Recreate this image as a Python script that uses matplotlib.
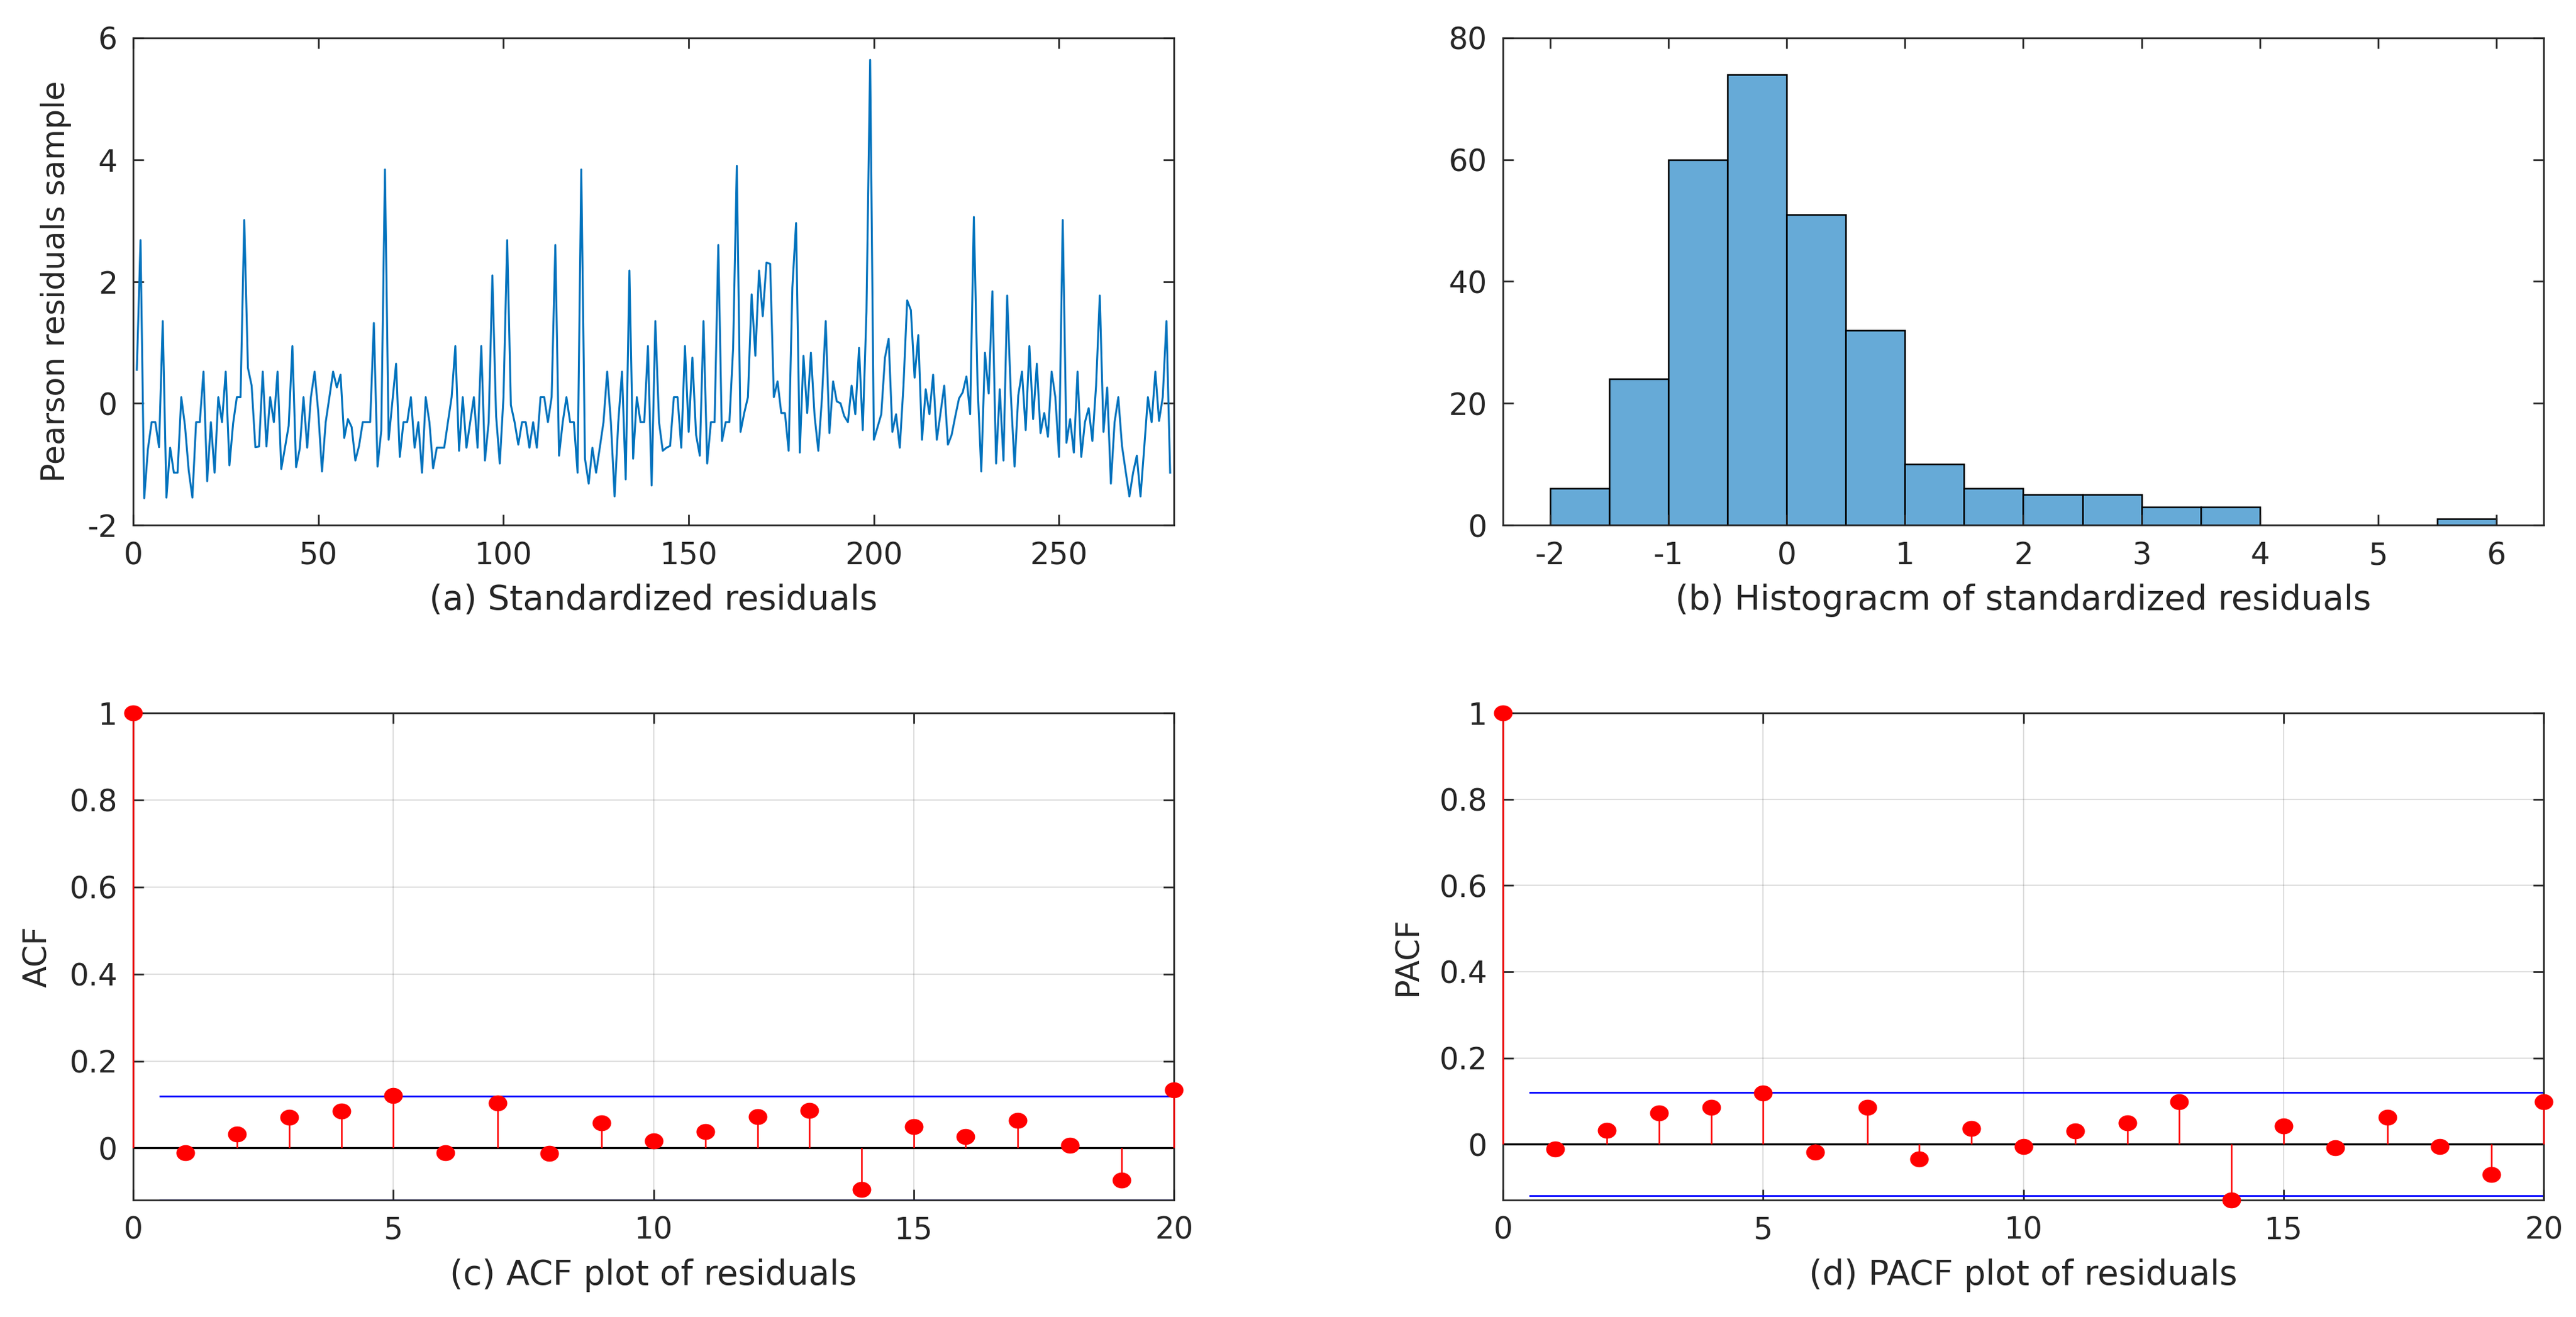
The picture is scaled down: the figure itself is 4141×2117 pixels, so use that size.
"""
Residual diagnostics figure: series, histogram, ACF and PACF of the
standardized (Pearson) residuals.
"""

import numpy as np
import matplotlib
matplotlib.use('Agg')
import matplotlib.pyplot as plt
from matplotlib.path import Path

# ---- data ----
residuals = [
    0.55, 2.68, -1.56, -0.75, -0.31, -0.31, -0.72, 1.35, -1.55, -0.73,
    -1.14, -1.14, 0.10, -0.37, -1.10, -1.55, -0.31, -0.31, 0.52, -1.28,
    -0.31, -1.14, 0.10, -0.31, 0.52, -1.02, -0.33, 0.10, 0.10, 3.01,
    0.58, 0.29, -0.72, -0.71, 0.52, -0.71, 0.10, -0.31, 0.52, -1.08,
    -0.73, -0.37, 0.94, -1.05, -0.74, 0.10, -0.73, 0.10, 0.52, -0.15,
    -1.12, -0.31, 0.10, 0.52, 0.26, 0.47, -0.57, -0.26, -0.39, -0.94,
    -0.70, -0.31, -0.31, -0.31, 1.32, -1.04, -0.45, 3.84, -0.60, 0.03,
    0.65, -0.88, -0.31, -0.31, 0.10, -0.73, -0.31, -1.14, 0.10, -0.31,
    -1.07, -0.73, -0.73, -0.73, -0.31, 0.10, 0.94, -0.78, 0.10, -0.73,
    -0.31, 0.10, -0.73, 0.94, -0.94, -0.31, 2.10, -0.20, -0.99, 0.10,
    2.68, -0.03, -0.31, -0.68, -0.31, -0.31, -0.73, -0.31, -0.73, 0.10,
    0.10, -0.31, 0.10, 2.60, -0.86, -0.31, 0.10, -0.31, -0.31, -1.14,
    3.84, -0.91, -1.32, -0.73, -1.14, -0.73, -0.31, 0.52, -0.31, -1.53,
    -0.31, 0.52, -1.25, 2.18, -0.91, 0.10, -0.31, -0.31, 0.94, -1.35,
    1.35, -0.31, -0.78, -0.73, -0.70, 0.10, 0.10, -0.73, 0.94, -0.47,
    0.75, -0.52, -0.86, 1.35, -0.99, -0.31, -0.31, 2.60, -0.62, -0.31,
    -0.31, 0.90, 3.90, -0.47, -0.16, 0.10, 1.79, 0.78, 2.18, 1.43,
    2.31, 2.29, 0.10, 0.36, -0.16, -0.16, -0.78, 1.90, 2.96, -0.81,
    0.78, -0.16, 0.83, -0.21, -0.78, 0.10, 1.35, -0.49, 0.36, 0.03,
    0.00, -0.21, -0.31, 0.29, -0.18, 0.91, -0.44, 1.50, 5.64, -0.60,
    -0.39, -0.18, 0.75, 1.06, -0.47, -0.18, -0.73, 0.29, 1.69, 1.53,
    0.42, 1.12, -0.60, 0.23, -0.18, 0.47, -0.60, -0.16, 0.29, -0.68,
    -0.52, -0.21, 0.08, 0.18, 0.44, -0.18, 3.06, 0.30, -1.12, 0.83,
    0.16, 1.84, -0.99, 0.23, -0.94, 1.77, 0.13, -1.04, 0.13, 0.52,
    -0.44, 0.94, -0.26, 0.65, -0.49, -0.16, -0.55, 0.52, 0.10, -0.88,
    3.01, -0.65, -0.26, -0.81, 0.52, -0.88, -0.31, -0.08, -0.62, 0.29,
    1.77, -0.47, 0.26, -1.32, -0.31, 0.10, -0.70, -1.12, -1.53, -1.14,
    -0.86, -1.53, -0.73, 0.10, -0.31, 0.52, -0.29, 0.10, 1.35, -1.14,
]

hist_edges = np.arange(-2.0, 6.01, 0.5)
hist_counts = [6, 24, 60, 74, 51, 32, 10, 6, 5, 5, 3, 3, 0, 0, 0, 1]

lags = np.arange(0, 21)
acf_vals = [1.0, -0.011, 0.032, 0.071, 0.085, 0.121, -0.011, 0.104, -0.012,
            0.058, 0.016, 0.038, 0.072, 0.086, -0.095, 0.049, 0.026, 0.064,
            0.007, -0.074, 0.133]
pacf_vals = [1.0, -0.011, 0.032, 0.072, 0.085, 0.119, -0.018, 0.085, -0.035,
             0.036, -0.006, 0.031, 0.050, 0.098, -0.1295, 0.042, -0.009,
             0.062, -0.006, -0.070, 0.099]

N_OBS = len(residuals)
BOUND = 2 / np.sqrt(N_OBS)

# ---- style ----
TXT = '#262626'
plt.rcParams['font.family'] = ['DejaVu Sans']
plt.rcParams['axes.unicode_minus'] = False
plt.rcParams['text.color'] = TXT
plt.rcParams['axes.labelcolor'] = TXT
plt.rcParams['axes.edgecolor'] = TXT
plt.rcParams['axes.linewidth'] = 0.65
plt.rcParams['xtick.color'] = TXT
plt.rcParams['ytick.color'] = TXT

TICK_FS = 11.7
XLABEL_FS = 13.2
YLABEL_FS = 12.2

# the source image is a bit wider than tall, so the round markers are too
_th = np.linspace(0, 2 * np.pi, 60)
OVAL = Path(np.column_stack([np.cos(_th), 0.83 * np.sin(_th)]), closed=True)

W, H = 4141, 2117
DPI = 300
fig = plt.figure(figsize=(W / DPI, H / DPI), dpi=DPI)

col_x = [214 / W, 2416 / W]
col_w = 1673 / W
row_y = [(H - 844) / H, (H - 1929) / H]
row_h = 783 / H

ax_a = fig.add_axes([col_x[0], row_y[0], col_w, row_h])
ax_b = fig.add_axes([col_x[1], row_y[0], col_w, row_h])
ax_c = fig.add_axes([col_x[0], row_y[1], col_w, row_h])
ax_d = fig.add_axes([col_x[1], row_y[1], col_w, row_h])


def style(ax):
    ax.tick_params(direction='in', top=True, right=True, length=4, width=0.65,
                   labelsize=TICK_FS, pad=6)


# (a) residual series
t = np.arange(1, N_OBS + 1)
ax_a.plot(t, residuals, color='#0072BD', lw=0.75)
ax_a.set_xlim(0, 281)
ax_a.set_ylim(-2, 6)
ax_a.set_yticks([-2, 0, 2, 4, 6])
ax_a.set_xticks([0, 50, 100, 150, 200, 250])
ax_a.set_ylabel('Pearson residuals sample', fontsize=YLABEL_FS, labelpad=6)
ax_a.set_xlabel('(a) Standardized residuals', fontsize=XLABEL_FS, labelpad=5)
style(ax_a)

# (b) histogram
ax_b.bar(hist_edges[:-1], hist_counts, width=np.diff(hist_edges), align='edge',
         color='#66AAD7', edgecolor='black', linewidth=0.6)
ax_b.set_xlim(-2.4, 6.4)
ax_b.set_ylim(0, 80)
ax_b.set_xticks(range(-2, 7))
ax_b.set_yticks([0, 20, 40, 60, 80])
ax_b.set_xlabel('(b) Histogracm of standardized residuals', fontsize=XLABEL_FS,
                labelpad=5)
style(ax_b)


# (c), (d) correlograms
def correlogram(ax, vals, ylab, xlab):
    ax.grid(True, color=TXT, alpha=0.15, lw=0.5)
    ax.set_axisbelow(True)
    ml, sl, bl = ax.stem(lags, vals, linefmt='r-', markerfmt='ro', basefmt='k-')
    plt.setp(sl, linewidth=0.6, zorder=3, clip_on=False)
    plt.setp(ml, marker=OVAL, markersize=6.2, zorder=4, clip_on=False)
    plt.setp(bl, linewidth=0.8, color='black')
    ax.hlines([BOUND, -BOUND], 0.5, 20, colors='blue', lw=0.65, zorder=2.2)
    ax.set_xlim(0, 20)
    ax.set_ylim(min(min(vals), -BOUND), 1)
    ax.set_xticks([0, 5, 10, 15, 20])
    ax.set_yticks([0, 0.2, 0.4, 0.6, 0.8, 1])
    ax.set_yticklabels(['0', '0.2', '0.4', '0.6', '0.8', '1'])
    ax.set_ylabel(ylab, fontsize=YLABEL_FS, labelpad=6)
    ax.set_xlabel(xlab, fontsize=XLABEL_FS, labelpad=5)
    style(ax)


correlogram(ax_c, acf_vals, 'ACF', '(c) ACF plot of residuals')
correlogram(ax_d, pacf_vals, 'PACF', '(d) PACF plot of residuals')

fig.savefig('out.png', dpi=DPI)
